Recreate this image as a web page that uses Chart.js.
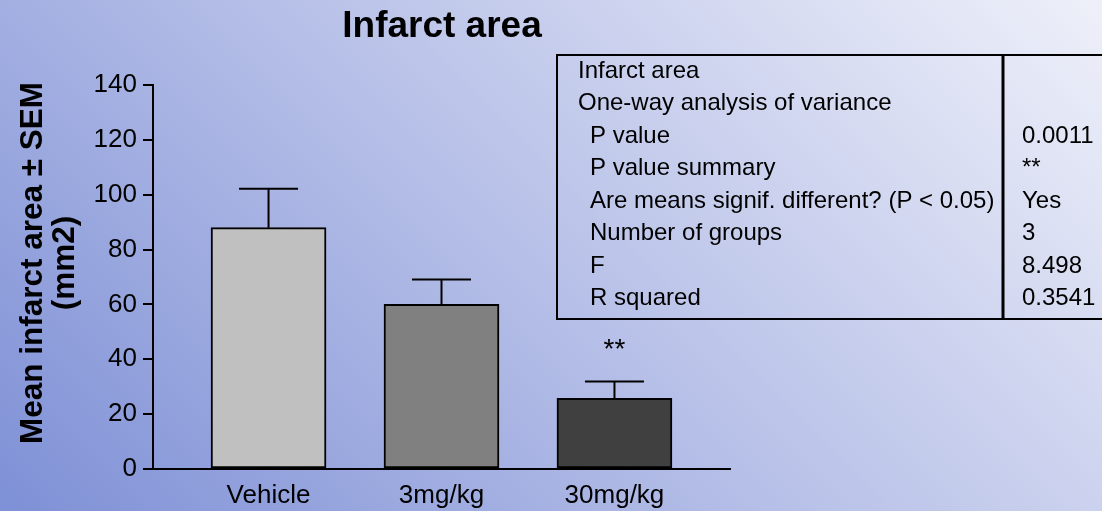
<!DOCTYPE html>
<html>
<head>
<meta charset="utf-8">
<title>Infarct area</title>
<script src="https://cdn.jsdelivr.net/npm/chart.js@4.4.1/dist/chart.umd.min.js"></script>
<style>
    html, body { margin: 0; padding: 0; overflow: hidden; background: #b8c0e6; }
    canvas { display: block; }
</style>
</head>
<body>
<canvas id="infarctChart" width="1102" height="511"></canvas>
<script>
// Values
const groups = ['Vehicle', '3mg/kg', '30mg/kg'];
const means = [88, 60, 25.8];
const sems = [14.2, 9.1, 6.1];
const barColors = ['#c0c0c0', '#808080', '#404040'];
const signif = ['', '', '**'];
const yTicks = [0, 20, 40, 60, 80, 100, 120, 140];

// ANOVA summary table
const statLabels = [
    'Infarct area',
    'One-way analysis of variance',
    'P value',
    'P value summary',
    'Are means signif. different? (P < 0.05)',
    'Number of groups',
    'F',
    'R squared'
];
const statValues = ['', '', '0.0011', '**', 'Yes', '3', '8.498', '0.3541'];

const FONT = '"Liberation Sans", Arial, Helvetica, sans-serif';
Chart.defaults.font.family = FONT;
Chart.defaults.color = '#000';

// Background gradient (bottom-left blue to top-right near white)
const backgroundPlugin = {
    id: 'slideBackground',
    beforeDraw(chart) {
        const { ctx, width, height } = chart;
        const s = (width + height) / 2;
        const g = ctx.createLinearGradient(0, height, s, height - s);
        g.addColorStop(0, '#7e90d6');
        g.addColorStop(0.5, '#b8c1e8');
        g.addColorStop(1, '#eef0f9');
        ctx.save();
        ctx.fillStyle = g;
        ctx.fillRect(0, 0, width, height);
        ctx.restore();
    }
};

// Error bars (upper half only) and significance stars
const errorBarPlugin = {
    id: 'errorBars',
    afterDatasetsDraw(chart) {
        const { ctx, scales: { x, y } } = chart;
        ctx.save();
        ctx.strokeStyle = '#000';
        ctx.lineWidth = 2;
        means.forEach((m, i) => {
            const cx = x.getPixelForValue(i);
            const yBar = y.getPixelForValue(m);
            const yTop = y.getPixelForValue(m + sems[i]);
            ctx.beginPath();
            ctx.moveTo(cx, yBar);
            ctx.lineTo(cx, yTop);
            ctx.moveTo(cx - 29.5, yTop);
            ctx.lineTo(cx + 29.5, yTop);
            ctx.stroke();

            if (signif[i]) {
                ctx.fillStyle = '#000';
                ctx.font = '28px ' + FONT;
                ctx.textAlign = 'center';
                ctx.textBaseline = 'alphabetic';
                ctx.fillText(signif[i], cx, yTop - 24);
            }
        });
        ctx.restore();
    }
};

// Title, rotated y title and the stats table
const annotationPlugin = {
    id: 'annotations',
    afterDraw(chart) {
        const { ctx } = chart;
        ctx.save();
        ctx.fillStyle = '#000';

        // Title
        ctx.font = 'bold 37px ' + FONT;
        ctx.textAlign = 'center';
        ctx.textBaseline = 'alphabetic';
        ctx.fillText('Infarct area', 442, 37);

        // Y axis title, two lines
        const yTitle = ['Mean infarct area \u00b1 SEM', '(mm2)'];
        const baseX = [41.5, 73.5];
        ctx.font = 'bold 31.5px ' + FONT;
        yTitle.forEach((line, i) => {
            ctx.save();
            ctx.translate(baseX[i], 263);
            ctx.rotate(-Math.PI / 2);
            ctx.fillText(line, 0, 0);
            ctx.restore();
        });

        // Stats table
        const left = 557, top = 55, bottom = 319, divider = 1003;
        ctx.strokeStyle = '#000';
        ctx.lineWidth = 2;
        ctx.strokeRect(left, top, chart.width + 10 - left, bottom - top);
        ctx.lineWidth = 3;
        ctx.beginPath();
        ctx.moveTo(divider, top);
        ctx.lineTo(divider, bottom);
        ctx.stroke();

        ctx.font = '24px ' + FONT;
        ctx.textAlign = 'left';
        statLabels.forEach((label, i) => {
            const yy = 77.7 + i * 32.47;
            ctx.fillText(label, i < 2 ? 578 : 590, yy);
            if (statValues[i]) ctx.fillText(statValues[i], 1022, yy);
        });
        ctx.restore();
    }
};

const ctx = document.getElementById('infarctChart');
new Chart(ctx, {
    type: 'bar',
    data: {
        datasets: [{
            data: groups.map((g, i) => ({ x: i, y: means[i] })),
            backgroundColor: barColors,
            borderColor: '#000',
            borderWidth: 2,
            borderSkipped: false,
            barThickness: 115
        }]
    },
    options: {
        responsive: false,
        devicePixelRatio: 1,
        animation: false,
        layout: {
            padding: { top: 85, right: 372, bottom: 0, left: 0 }
        },
        plugins: {
            legend: { display: false },
            tooltip: { enabled: false },
            title: { display: false }
        },
        scales: {
            x: {
                type: 'linear',
                offset: false,
                min: -0.668,
                max: 2.668,
                grid: { display: false, drawTicks: false },
                border: { display: true, color: '#000', width: 2 },
                afterBuildTicks: (scale) => {
                    scale.ticks = groups.map((g, i) => ({ value: i }));
                },
                afterFit: (scale) => { scale.height = 42; },
                ticks: {
                    autoSkip: false,
                    maxRotation: 0,
                    padding: 11,
                    color: '#000',
                    font: { size: 26 },
                    callback: (v) => groups[v]
                }
            },
            y: {
                min: yTicks[0],
                max: yTicks[yTicks.length - 1],
                grid: {
                    display: true,
                    drawOnChartArea: false,
                    drawTicks: true,
                    tickLength: 10,
                    color: '#000',
                    lineWidth: 2
                },
                border: { display: true, color: '#000', width: 2 },
                afterBuildTicks: (scale) => {
                    scale.ticks = yTicks.map(v => ({ value: v }));
                },
                afterFit: (scale) => { scale.width = 153; },
                ticks: {
                    padding: 6,
                    color: '#000',
                    font: { size: 26 }
                }
            }
        }
    },
    plugins: [backgroundPlugin, errorBarPlugin, annotationPlugin]
});
</script>
</body>
</html>
